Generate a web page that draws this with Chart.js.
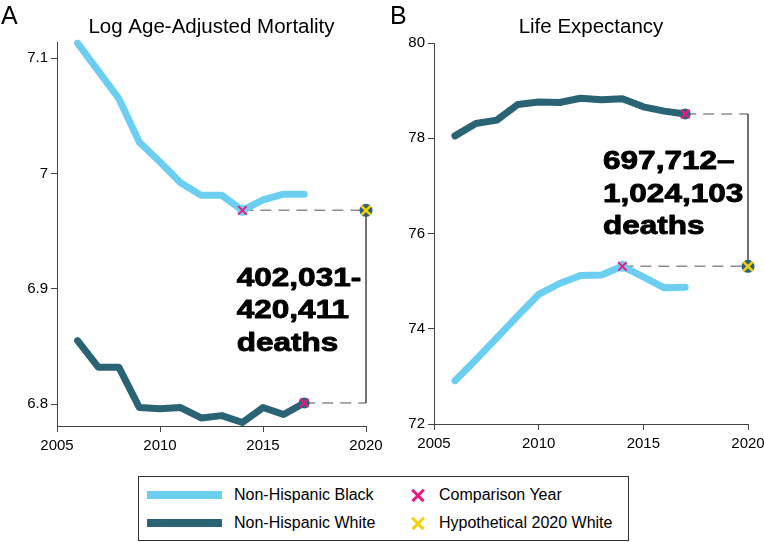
<!DOCTYPE html>
<html><head><meta charset="utf-8">
<script src="https://cdn.jsdelivr.net/npm/chart.js@4/dist/chart.umd.min.js"></script>
<style>
html,body{margin:0;padding:0;background:#fff;}
body{width:764px;height:542px;position:relative;overflow:hidden;font-family:"Liberation Sans",Arial,sans-serif;color:#000;}
canvas{position:absolute;top:0;}
#cA{left:0;} #cB{left:380px;}
.letter{position:absolute;top:0;font-size:25px;line-height:30px;}
#legend{position:absolute;left:138px;top:476px;width:491px;height:65px;box-sizing:border-box;border:1px solid #333;background:#fff;}
.sw{position:absolute;left:8px;width:75px;height:8px;}
.lt{position:absolute;font-size:16px;line-height:20px;white-space:nowrap;}
.xm{position:absolute;width:14px;height:14px;}
.xm::before,.xm::after{content:'';position:absolute;left:-1px;top:6px;width:16px;height:2.5px;background:currentColor;}
.xm::before{transform:rotate(45deg);} .xm::after{transform:rotate(-45deg);}
</style></head>
<body>
<canvas id="cA" width="384" height="470"></canvas>
<canvas id="cB" width="384" height="470"></canvas>
<div class="letter" style="left:1px;">A</div>
<div class="letter" style="left:390px;">B</div>
<div id="legend">
  <div class="sw" id="swBlack" style="top:14px;"></div>
  <div class="lt" style="left:95px;top:8px;">Non-Hispanic Black</div>
  <div class="sw" id="swWhite" style="top:42px;"></div>
  <div class="lt" style="left:95px;top:36px;">Non-Hispanic White</div>
  <div class="xm" id="xmComp" style="left:272px;top:11px;"></div>
  <div class="lt" style="left:300px;top:8px;">Comparison Year</div>
  <div class="xm" id="xmHyp" style="left:272px;top:39px;"></div>
  <div class="lt" style="left:300px;top:36px;">Hypothetical 2020 White</div>
</div>
<script>
// ---------- data ----------
const years = [2006,2007,2008,2009,2010,2011,2012,2013,2014,2015,2016,2017];
const blackMort = [7.113,7.089,7.065,7.027,7.010,6.992,6.981,6.981,6.968,6.977,6.982,6.982];
const whiteMort = [6.855,6.832,6.832,6.797,6.796,6.797,6.788,6.790,6.784,6.797,6.791,6.801];
const blackLE = [72.91,73.35,73.81,74.27,74.72,74.95,75.12,75.13,75.31,75.09,74.86,74.87];
const whiteLE = [78.05,78.31,78.38,78.71,78.76,78.75,78.84,78.81,78.83,78.66,78.57,78.51];
const compYearBlack = 2014;
const compYearWhite = 2017;
const hypYear = 2020;
const hypMortA = 6.968;
const hypLEB = 75.31;
const xTicks = [2005,2010,2015,2020];
const yTicksA = [6.8,6.9,7,7.1];
const yTicksB = [72,74,76,78,80];
const titleA = "Log Age-Adjusted Mortality";
const titleB = "Life Expectancy";
const annoA = ["402,031-","420,411","deaths"];
const annoB = ["697,712\u2013","1,024,103","deaths"];

// ---------- styles ----------
const cBlack = '#6ccff2';
const cWhite = '#2a6474';
const cPink = '#ec1a80';
const cYellow = '#f7cf0a';
const cAxis = '#444';
const FONT = '"Liberation Sans", Arial, sans-serif';

document.getElementById('swBlack').style.background = cBlack;
document.getElementById('swWhite').style.background = cWhite;
document.getElementById('xmComp').style.color = cPink;
document.getElementById('xmHyp').style.color = cYellow;

const annotPlugin = {
  id: 'annot',
  afterDatasetsDraw(chart, args, o) {
    const {ctx, chartArea, scales:{x, y}} = chart;
    ctx.save();
    ctx.fillStyle = '#000';
    ctx.font = '20.5px ' + FONT;
    ctx.textAlign = 'center';
    ctx.textBaseline = 'alphabetic';
    ctx.fillText(o.title, (chartArea.left + chartArea.right) / 2, 33);
    const yMid = (y.getPixelForValue(o.lo) + y.getPixelForValue(o.hi)) / 2;
    const xL = x.getPixelForValue(o.textX);
    ctx.font = 'bold 26.5px ' + FONT;
    ctx.textAlign = 'left';
    ctx.strokeStyle = '#000';
    ctx.lineJoin = 'round';
    o.lines.forEach((t, i) => {
      ctx.save();
      ctx.translate(xL + 0.5, yMid - 21 + i * 32.5);
      ctx.scale(1.19, 1);
      ctx.lineWidth = 0.9;
      ctx.fillText(t, 0, 0);
      ctx.strokeText(t, 0, 0);
      ctx.restore();
    });
    ctx.restore();
  }
};

function pts(xs, ys) { return xs.map((v, i) => ({x: v, y: ys[i]})); }

function makeChart(id, black, white, hyp, cfg) {
  const bComp = black[years.indexOf(compYearBlack)];
  const wComp = white[years.indexOf(compYearWhite)];
  const lineDS = (data, color, compYear) => ({
    data: pts(years, data), showLine: true, borderColor: color, borderWidth: 7,
    borderCapStyle: 'round', borderJoinStyle: 'round', tension: 0,
    pointRadius: c => (years[c.dataIndex] === compYear ? 5.5 : 0),
    pointBackgroundColor: color, pointBorderWidth: 0, clip: false, order: 3
  });
  const datasets = [
    {data: [{x: hypYear, y: hyp}], pointStyle: 'crossRot', pointRadius: 6.5, borderColor: cYellow, pointBorderWidth: 2.5, clip: false, order: 0},
    {data: [{x: hypYear, y: hyp}], pointStyle: 'circle', pointRadius: 6.5, backgroundColor: cWhite, pointBorderWidth: 0, clip: false, order: 1},
    {data: [{x: compYearBlack, y: bComp}, {x: compYearWhite, y: wComp}], pointStyle: 'crossRot', pointRadius: 6, borderColor: cPink, pointBorderWidth: 2, clip: false, order: 2},
    lineDS(black, cBlack, compYearBlack),
    lineDS(white, cWhite, compYearWhite),
    {data: [{x: compYearBlack, y: bComp}, {x: hypYear, y: hyp}], showLine: true, borderColor: '#8c8c8c', borderWidth: 1.5, borderDash: [11, 7], pointRadius: 0, clip: false, order: 5},
    {data: [{x: compYearWhite, y: wComp}, {x: hypYear, y: wComp}], showLine: true, borderColor: '#8c8c8c', borderWidth: 1.5, borderDash: [11, 7], pointRadius: 0, clip: false, order: 5},
    {data: [{x: hypYear, y: wComp}, {x: hypYear, y: hyp}], showLine: true, borderColor: '#444', borderWidth: 1.5, pointRadius: 0, clip: false, order: 4}
  ];
  const tickFont = {family: FONT, size: 15};
  return new Chart(document.getElementById(id), {
    type: 'scatter',
    data: {datasets},
    plugins: [annotPlugin],
    options: {
      responsive: false, animation: false, events: [],
      layout: {padding: {top: cfg.top, right: cfg.right, left: 0, bottom: 0}},
      plugins: {
        legend: {display: false}, tooltip: {enabled: false}, title: {display: false},
        annot: {title: cfg.title, lines: cfg.lines, lo: wComp, hi: hyp, textX: cfg.textX}
      },
      scales: {
        x: {
          type: 'linear', min: 2005, max: 2020,
          afterBuildTicks: s => { s.ticks = xTicks.map(v => ({value: v})); },
          afterFit: s => { s.height = cfg.xh; s.paddingLeft = 0; s.paddingRight = 0; },
          ticks: {font: tickFont, color: '#000', padding: 5, maxRotation: 0, callback: v => String(v)},
          grid: {drawOnChartArea: false, drawTicks: true, tickLength: 6, color: cAxis, lineWidth: 1},
          border: {display: true, color: cAxis, width: 1}
        },
        y: {
          type: 'linear', min: cfg.ymin, max: cfg.ymax,
          afterBuildTicks: s => { s.ticks = cfg.yticks.map(v => ({value: v})); },
          afterFit: s => { s.width = cfg.yw; s.paddingTop = 0; s.paddingBottom = 0; },
          ticks: {font: tickFont, color: '#000', padding: 3, callback: v => String(v)},
          grid: {drawOnChartArea: false, drawTicks: true, tickLength: 6, color: cAxis, lineWidth: 1},
          border: {display: true, color: cAxis, width: 1}
        }
      }
    }
  });
}

makeChart('cA', blackMort, whiteMort, hypMortA,
  {title: titleA, lines: annoA, textX: 2013.7, top: 42, right: 18, xh: 44, yw: 57, ymin: 6.781, ymax: 7.114, yticks: yTicksA});
makeChart('cB', blackLE, whiteLE, hypLEB,
  {title: titleB, lines: annoB, textX: 2013.05, top: 43, right: 16, xh: 46, yw: 54, ymin: 72, ymax: 80, yticks: yTicksB});
</script>
</body></html>
